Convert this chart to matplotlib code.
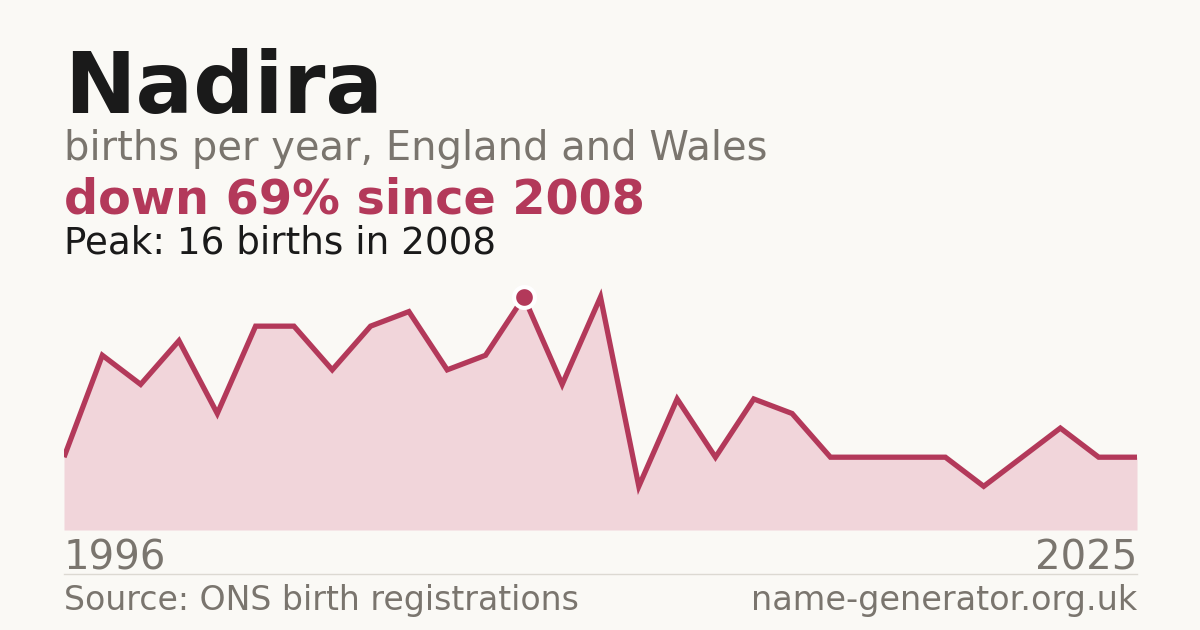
import matplotlib
matplotlib.use("Agg")
import matplotlib.pyplot as plt
from matplotlib.lines import Line2D

# ------------------------------------------------------------------ #
#  Data                                                               #
# ------------------------------------------------------------------ #
NAME = "Nadira"
FIRST_YEAR = "1996"
LAST_YEAR = "2025"
births = [5, 12, 10, 13, 8, 14, 14, 11, 14, 15, 11, 12, 16, 10, 16,
          3, 9, 5, 9, 8, 5, 5, 5, 5, 3, 5, 7, 5, 5]
peak_index = 12

BG = "#faf9f5"
RED = "#b3395a"
FILL = "#f1d5da"
GREY = "#7a756e"
DARK = "#1a1a1a"

W, H = 1200, 630
fig = plt.figure(figsize=(W / 100, H / 100), dpi=100, facecolor=BG)

# plot area in pixel terms
left, right, bottom, top = 64, 1137, 530, 280
px_per_unit = 14.56
ax = fig.add_axes([left / W, (H - bottom) / H, (right - left) / W, (bottom - top) / H])
ax.set_facecolor(BG)
ax.patch.set_alpha(0)

x = list(range(len(births)))
ax.fill_between(x, births, 0, color=FILL, linewidth=0)
ax.plot(x, births, color=RED, linewidth=3.8, solid_joinstyle="miter", solid_capstyle="butt")
ax.plot([peak_index], [births[peak_index]], "o", color=RED, markersize=15,
        markeredgecolor="white", markeredgewidth=3, zorder=5)

ax.set_xlim(0, len(births) - 1)
ax.set_ylim(0, (bottom - top) / px_per_unit)
ax.axis("off")

# Header text
fig.text(64 / W, 1 - 113 / H, NAME, fontsize=61.5, fontweight="bold", color=DARK,
         ha="left", va="baseline")
fig.text(64 / W, 1 - 160 / H, "births per year, England and Wales", fontsize=28.8,
         color=GREY, ha="left", va="baseline")

peak = births[peak_index]
drop = round((peak - births[-1]) / peak * 100)
peak_year = int(FIRST_YEAR) + peak_index
fig.text(64 / W, 1 - 214 / H, f"down {drop}% since {peak_year}", fontsize=34.4,
         fontweight="bold", color=RED, ha="left", va="baseline")
fig.text(64 / W, 1 - 254 / H, f"Peak: {peak} births in {peak_year}", fontsize=26.8,
         color=DARK, ha="left", va="baseline")

# Year labels
fig.text(64 / W, 1 - 570 / H, FIRST_YEAR, fontsize=29, color=GREY, ha="left", va="baseline")
fig.text(1137 / W, 1 - 570 / H, LAST_YEAR, fontsize=29, color=GREY, ha="right", va="baseline")

# separator
fig.add_artist(Line2D([64 / W, 1137 / W], [1 - 574 / H, 1 - 574 / H],
                      color="#dcd9d2", linewidth=1))

# Footer
fig.text(64 / W, 1 - 610 / H, "Source: ONS birth registrations", fontsize=23.9,
         color=GREY, ha="left", va="baseline")
fig.text(1137 / W, 1 - 610 / H, "name-generator.org.uk", fontsize=24.1,
         color=GREY, ha="right", va="baseline")

fig.savefig("out.png", dpi=100, facecolor=BG)
